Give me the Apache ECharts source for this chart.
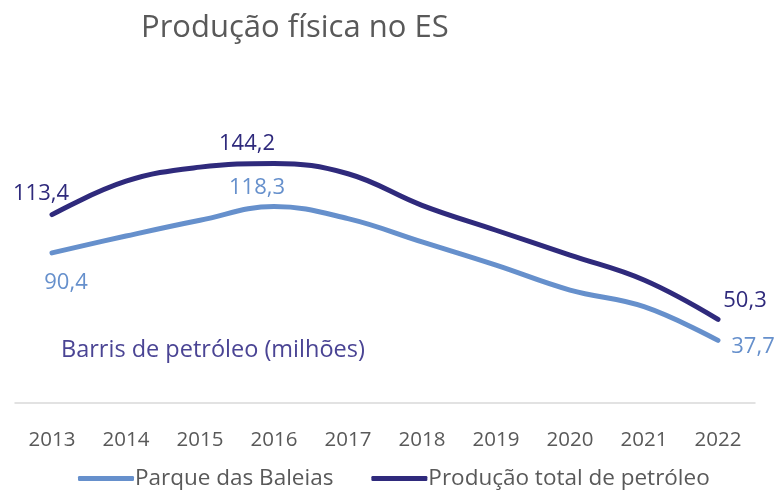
<!DOCTYPE html>
<html>
<head>
<meta charset="utf-8">
<script src="https://cdn.jsdelivr.net/npm/echarts@6/dist/echarts.min.js"></script>
<style>
html,body{margin:0;padding:0;background:#fff;}
#c{width:775px;height:495px;}
</style>
</head>
<body>
<div id="c"></div>
<script>
const categories = ['2013','2014','2015','2016','2017','2018','2019','2020','2021','2022'];
const parqueBaleias = [90.4, 100.5, 110, 118.3, 111, 97, 83, 68, 58, 37.7];
const producaoTotal = [113.4, 133.5, 142, 144.2, 138, 119, 104, 89, 74, 50.3];
const labelledIdx = [0, 3, 9];

const FONT = '"Open Sans", "Noto Sans", sans-serif';
const cTotal = '#2f2a7c';
const cBaleias = '#6690cc';

const offsTotal = {0: [-11, -21], 3: [-27, -20], 9: [27, -19]};
const offsBal = {0: [14, 30], 3: [-17, -19], 9: [35, 6]};

function build(vals, color, offs) {
  return vals.map((v, i) => {
    if (labelledIdx.indexOf(i) < 0) return v;
    return {
      value: v,
      label: {
        show: true,
        position: 'inside',
        offset: offs[i],
        color: color,
        fontSize: 22,
        fontFamily: FONT,
        formatter: p => String(p.value).replace('.', ',')
      }
    };
  });
}

const chart = echarts.init(document.getElementById('c'));
chart.setOption({
  animation: false,
  title: [
    {text: 'Produção física no ES', left: 136, top: 8,
     textStyle: {color: '#595959', fontSize: 31, fontWeight: 'normal', fontFamily: FONT}},
    {text: 'Barris de petróleo (milhões)', left: 56, top: 333,
     textStyle: {color: '#4a4494', fontSize: 23.5, fontWeight: 'normal', fontFamily: FONT}}
  ],
  grid: {left: 15, right: 20, top: 104, bottom: 92, containLabel: false},
  legend: {
    bottom: 0, left: 73, itemGap: 38, itemWidth: 56, itemHeight: 5,
    icon: 'roundRect',
    textStyle: {color: '#595959', fontSize: 22.5, fontFamily: FONT, padding: [0, 0, 0, -4]},
    data: ['Parque das Baleias', 'Produção total de petróleo']
  },
  xAxis: {
    type: 'category', data: categories, boundaryGap: true,
    axisLine: {lineStyle: {color: '#d9d9d9', width: 1.5}},
    axisTick: {show: false},
    axisLabel: {color: '#595959', fontSize: 20.5, fontFamily: FONT, margin: 27}
  },
  yAxis: {
    type: 'value', min: 0, max: 180, show: false,
    splitLine: {show: false}
  },
  series: [
    {name: 'Parque das Baleias', type: 'line', smooth: 0.4, symbol: 'circle', symbolSize: 0,
     lineStyle: {color: cBaleias, width: 5, cap: 'round'}, itemStyle: {color: cBaleias},
     data: build(parqueBaleias, cBaleias, offsBal)},
    {name: 'Produção total de petróleo', type: 'line', smooth: 0.4, symbol: 'circle', symbolSize: 0,
     lineStyle: {color: cTotal, width: 5, cap: 'round'}, itemStyle: {color: cTotal},
     data: build(producaoTotal, cTotal, offsTotal)}
  ]
});
</script>
</body>
</html>
